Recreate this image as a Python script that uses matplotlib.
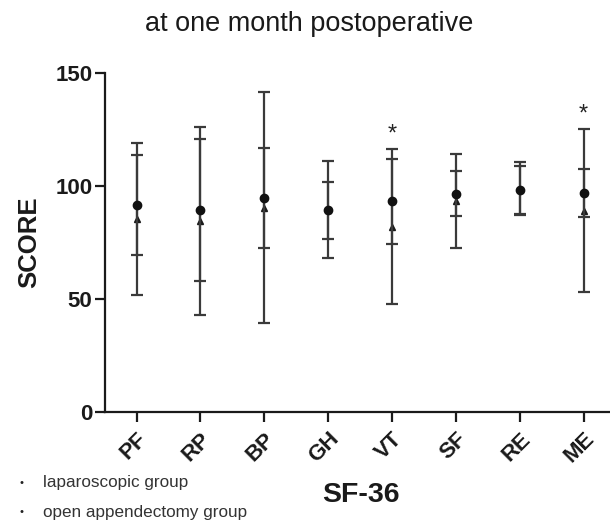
import matplotlib
matplotlib.use("Agg")
import matplotlib.pyplot as plt
import numpy as np

plt.rcParams['font.family'] = ['Liberation Sans', 'DejaVu Sans']

categories = ["PF", "RP", "BP", "GH", "VT", "SF", "RE", "ME"]
lap_mean = [91.6, 89.4, 94.6, 89.2, 93.1, 96.6, 98.1, 96.9]
lap_sd = [22.0, 31.5, 22.2, 12.6, 18.8, 9.9, 10.7, 10.8]
open_mean = [85.3, 84.3, 90.4, 89.5, 82.0, 93.3, 98.7, 89.1]
open_sd = [33.6, 41.6, 51.3, 21.5, 34.2, 21.0, 11.8, 36.3]
significant = ["VT", "ME"]
series_labels = ["laparoscopic group", "open appendectomy group"]

fig = plt.figure(figsize=(6.1, 5.27), dpi=100)
ax = fig.add_axes([0.1721, 0.2188, 0.8279, 0.6427])

x = np.arange(len(categories))
line_col = "#3a3a3a"
ax.errorbar(x, open_mean, yerr=open_sd, fmt='^', color='#1a1a1a', ecolor=line_col,
            elinewidth=1.6, capsize=4, capthick=1.6, markersize=4.5, zorder=3)
ax.errorbar(x, lap_mean, yerr=lap_sd, fmt='o', color='#111111', ecolor=line_col,
            elinewidth=1.6, capsize=4, capthick=1.6, markersize=6, zorder=4)

for cat in significant:
    i = categories.index(cat)
    top = max(lap_mean[i] + lap_sd[i], open_mean[i] + open_sd[i])
    ax.text(i, top + 1.5, "*", ha='center', va='bottom', fontsize=17, color='#222222')

ax.set_xlim(-0.495, 7.415)
ax.set_ylim(0, 150)
ax.set_yticks([0, 50, 100, 150])
ax.set_xticks(x)
ax.set_xticklabels(categories, rotation=45, ha='right', va='top',
                   rotation_mode='anchor', fontsize=16, fontweight='bold', color='#1a1a1a')
for lbl in ax.get_yticklabels():
    lbl.set_fontsize(16)
    lbl.set_fontweight('bold')
    lbl.set_color('#1a1a1a')

for side in ['top', 'right']:
    ax.spines[side].set_visible(False)
for side in ['left', 'bottom']:
    ax.spines[side].set_linewidth(1.6)
    ax.spines[side].set_color('#1a1a1a')
ax.tick_params(axis='both', direction='out', length=7, width=1.6, color='#1a1a1a')
ax.tick_params(axis='y', pad=2)
ax.tick_params(axis='x', pad=5)

ax.set_ylabel("SCORE", fontsize=18.5, fontweight='bold', color='#1a1a1a', labelpad=10)
fig.text(361/610, 1 - 495/527, "SF-36", ha='center', va='center',
         fontsize=20.5, fontweight='bold', color='#1a1a1a')
fig.text(309/610, 1 - 24/527, "at one month postoperative", ha='center', va='center',
         fontsize=19.5, color='#1a1a1a')

for k, lab in enumerate(series_labels):
    yy = 1 - (483 + 29 * k) / 527
    fig.text(21/610, yy, "\u2022", ha='center', va='center', fontsize=8, color='#222222')
    fig.text(43/610, yy, lab, ha='left', va='center', fontsize=12.3, color='#333333')

fig.savefig("out.png", dpi=100)
